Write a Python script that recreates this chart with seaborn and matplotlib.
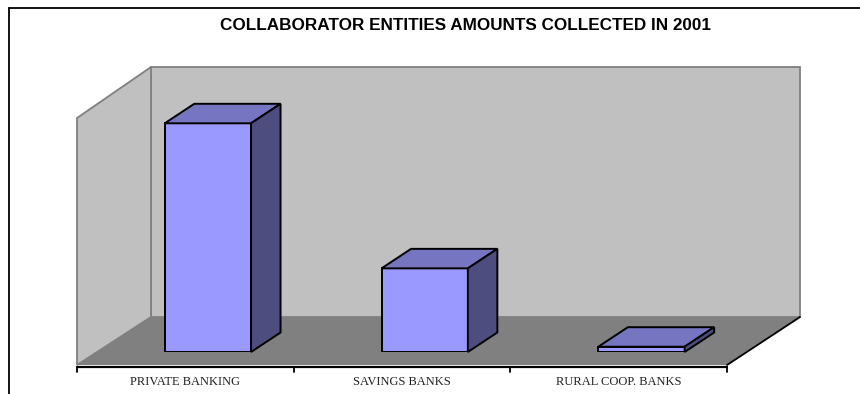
import matplotlib
matplotlib.use("Agg")
import matplotlib.pyplot as plt
from matplotlib.patches import Polygon
from matplotlib.lines import Line2D
import seaborn as sns

# ---- data ----
categories = ["PRIVATE BANKING", "SAVINGS BANKS", "RURAL COOP. BANKS"]
values = [43.2, 15.8, 1.0]
title = "COLLABORATOR ENTITIES AMOUNTS COLLECTED IN 2001"

sns.set_style("white")
plt.rcParams["font.family"] = ["Liberation Sans", "DejaVu Sans"]

W, H = 860, 394
fig = plt.figure(figsize=(W / 100, H / 100), dpi=100)

# background axes in pixel coordinates (walls, floor, frame)
bg = fig.add_axes([0, 0, 1, 1])
bg.set_xlim(0, W)
bg.set_ylim(H, 0)
bg.axis("off")

wall_c, floor_c, edge_c = "#C0C0C0", "#808080", "#808080"
bg.add_patch(Polygon([(151, 67), (800, 67), (800, 317), (151, 317)],
                     closed=True, fc=wall_c, ec=edge_c, lw=1.3))
bg.add_patch(Polygon([(77, 118), (151, 67), (151, 317), (77, 365)],
                     closed=True, fc=wall_c, ec=edge_c, lw=1.3))
bg.add_patch(Polygon([(77, 365), (151, 317), (800, 317), (727, 365)],
                     closed=True, fc=floor_c, ec="none", lw=0))
bg.add_line(Line2D([727, 800], [365, 317], color="black", lw=1.3))
# category axis
bg.add_line(Line2D([77, 727], [367, 367], color="black", lw=1.6))
n = len(categories)
step = (727 - 77) / n
for i in range(n + 1):
    x = 77 + i * step
    bg.add_line(Line2D([x, x], [367, 372], color="black", lw=1.3))
for i, lab in enumerate(categories):
    bg.text(77 + (i + 0.5) * step, 382, lab, ha="center", va="center",
            fontsize=9, family=["Liberation Serif", "DejaVu Serif"], color="#222222")
# frame
bg.add_line(Line2D([9, W], [8, 8], color="black", lw=1.3))
bg.add_line(Line2D([9, 9], [8, H], color="black", lw=1.3))
bg.text(465, 25, title, ha="center", va="center", fontsize=12.3,
        fontweight="bold", color="black")

# bar axes (front faces)
left_px, right_px = 99.5, 749.9
base_px = 352
ymax = 50.0
unit_px = 228.7 / 43.2
ax = fig.add_axes([left_px / W, (H - base_px) / H, (right_px - left_px) / W,
                   ymax * unit_px / H])
ax.patch.set_alpha(0)
sns.barplot(x=categories, y=values, ax=ax, color="#9999FF", saturation=1,
            width=0.398, edgecolor="black", linewidth=1.4, zorder=3)
ax.set_xlim(-0.5, n - 0.5)
ax.set_ylim(0, ymax)
ax.axis("off")

# 3D top and side faces derived from the drawn bars
dx, dy = 29.5, 19.5
fig.canvas.draw()
for p in list(ax.patches):
    x0, y0 = p.get_x(), p.get_y()
    x1, y1 = x0 + p.get_width(), y0 + p.get_height()
    (X0, Y0), (X1, Y1) = ax.transData.transform([(x0, y0), (x1, y1)])
    top = Polygon([(X0, Y1), (X1, Y1), (X1 + dx, Y1 + dy), (X0 + dx, Y1 + dy)],
                  closed=True, fc="#7575C1", ec="black", lw=1.4,
                  transform=None, clip_on=False, zorder=4)
    side = Polygon([(X1, Y0), (X1 + dx, Y0 + dy), (X1 + dx, Y1 + dy), (X1, Y1)],
                   closed=True, fc="#4D4D80", ec="black", lw=1.4,
                   transform=None, clip_on=False, zorder=4)
    ax.add_artist(top)
    ax.add_artist(side)

fig.savefig("out.png", dpi=100)
